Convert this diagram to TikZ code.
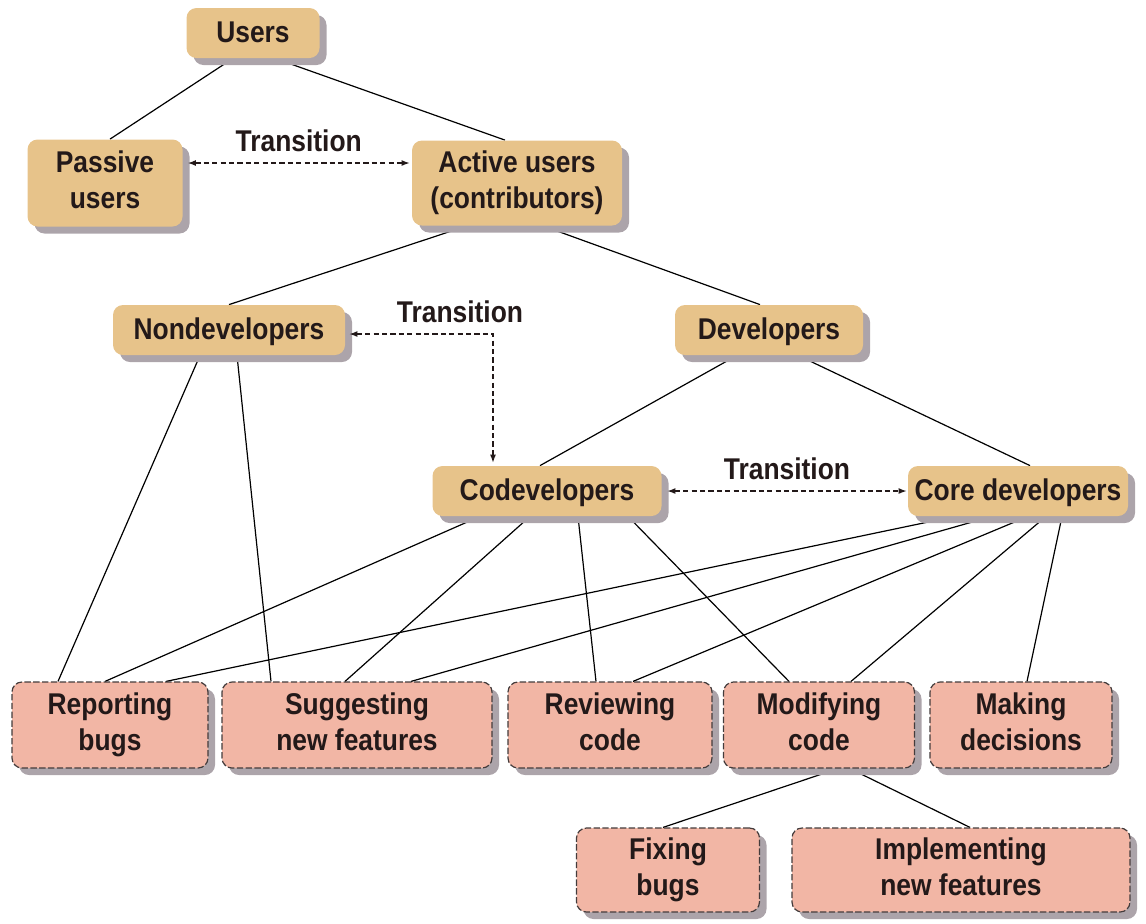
\documentclass[tikz,border=0pt]{standalone}
\usepackage{fontspec}
\setmainfont[FakeStretch=0.88]{Liberation Sans}
\usetikzlibrary{arrows.meta, shadows, backgrounds, positioning}
\definecolor{clrRole}{RGB}{231,195,138}
\definecolor{clrTask}{RGB}{242,182,165}
\definecolor{clrShd} {RGB}{172,164,170}
\definecolor{clrTxt} {RGB}{ 35, 25, 25}
% equal first-line height and last-line depth in every box
\newcommand\topstrut{\rule{0pt}{12.6pt}}
\newcommand\botstrut{\rule[-3.2pt]{0pt}{3.2pt}}
\tikzset{
  role/.style={rectangle, rounded corners=5pt, fill=clrRole, text=clrTxt,
    font=\fontsize{15pt}{18pt}\selectfont\bfseries, align=center,
    inner xsep=2pt, minimum height=25pt,
    execute at begin node=\topstrut, execute at end node=\botstrut,
    drop shadow={shadow xshift=3.5pt, shadow yshift=-3.5pt, fill=clrShd, opacity=1}},
  task/.style={rectangle, rounded corners=5pt, fill=clrTask, draw=clrTxt!85,
    dash pattern=on 3.2pt off 1.2pt, line width=0.6pt, text=clrTxt,
    font=\fontsize{15pt}{18pt}\selectfont\bfseries, align=center,
    inner xsep=2pt, minimum height=43pt,
    execute at begin node=\topstrut, execute at end node=\botstrut,
    drop shadow={shadow xshift=3.5pt, shadow yshift=-3.5pt, fill=clrShd, opacity=1}},
  link/.style={line width=0.6pt, color=black},
  trans/.style={{Latex[length=4pt,width=3pt]}-{Latex[length=4pt,width=3pt]},
    line width=0.6pt, dash pattern=on 2.6pt off 1.6pt, color=clrTxt},
  translbl/.style={font=\fontsize{15pt}{18pt}\selectfont\bfseries, text=clrTxt, inner sep=1pt},
}

\begin{document}
\begin{tikzpicture}[x=0.5pt, y=-0.5pt]
\useasboundingbox (0,0) rectangle (1146,923);
\def\yT{725}\def\yS{870}
% roles
\node[role, minimum width=66.5pt] (users) at (253,33) {Users};
\node[role, minimum width=77.5pt, minimum height=43.5pt] (passive) at (105,183) {Passive\\users};
\node[role, minimum width=105pt, minimum height=42.5pt] (active) at (517,183) {Active users\\(contributors)};
\node[role, minimum width=116pt] (nondev) at (229,330) {Nondevelopers};
\node[role, minimum width=94pt] (dev) at (769,330) {Developers};
\node[role, minimum width=114.5pt] (codev) at (547,491) {Codevelopers};
\node[role, minimum width=110pt] (core) at (1018,491) {Core developers};
% activities
\node[task, minimum width=98pt] (report) at (110,\yT) {Reporting\\bugs};
\node[task, minimum width=135pt] (suggest) at (357,\yT) {Suggesting\\new features};
\node[task, minimum width=102pt] (review) at (610,\yT) {Reviewing\\code};
\node[task, minimum width=95.5pt] (modify) at (819,\yT) {Modifying\\code};
\node[task, minimum width=91pt] (decide) at (1021,\yT) {Making\\decisions};
\node[task, minimum width=91.5pt, minimum height=42pt] (fixbugs) at (668,\yS) {Fixing\\bugs};
\node[task, minimum width=169pt, minimum height=42pt] (implement) at (961,\yS) {Implementing\\new features};
% hierarchy lines, kept under the shadows
\begin{scope}[on background layer]
\draw[link] ([xshift=-10pt]users.south) -- ([xshift=2.5pt]passive.north);
\draw[link] ([xshift=11pt]users.south) -- ([xshift=-6pt]active.north);
\draw[link] ([xshift=-25pt]active.south) -- (nondev.north);
\draw[link] ([xshift=13pt]active.south) -- ([xshift=-4.5pt]dev.north);
\draw[link] ([xshift=-16pt]dev.south) -- ([xshift=-3.5pt]codev.north);
\draw[link] ([xshift=14.5pt]dev.south) -- ([xshift=6pt]core.north);
\draw[link] ([xshift=-14.5pt]nondev.south) -- ([xshift=-26pt]report.north);
\draw[link] ([xshift=4pt]nondev.south) -- ([xshift=-43pt]suggest.north);
\foreach \a/\t/\b in {-33.5/report/-2.5, -8.5/suggest/-6, 15.5/review/-7, 40.5/modify/-15}
  \draw[link] ([xshift=\a pt]codev.south) -- ([xshift=\b pt]\t.north);
\foreach \a/\t/\b in {-31.5/report/28, -13/suggest/27, 5/review/11.5, 14/modify/16, 22/decide/3}
  \draw[link] ([xshift=\a pt]core.south) -- ([xshift=\b pt]\t.north);
\draw[link] ([xshift=9.5pt]modify.south) -- ([xshift=-2.5pt]fixbugs.north);
\draw[link] ([xshift=15.5pt]modify.south) -- ([xshift=4.5pt]implement.north);
\end{scope}
% transitions
\draw[trans] ([xshift=2.5pt, yshift=10pt]passive.east) -- node[translbl, above=4.5pt] (tr1) {Transition} ([xshift=-1pt, yshift=10pt]active.west);
\draw[trans] ([xshift=2pt, yshift=-2pt]nondev.east) -| node[translbl, pos=0.385, above=4.5pt] (tr2) {Transition} ([xshift=-27pt, yshift=1.5pt]codev.north);
\draw[trans] ([xshift=2.75pt]codev.east) -- node[translbl, above=4.5pt] (tr3) {Transition} ([xshift=-0.5pt]core.west);
\end{tikzpicture}
\end{document}
